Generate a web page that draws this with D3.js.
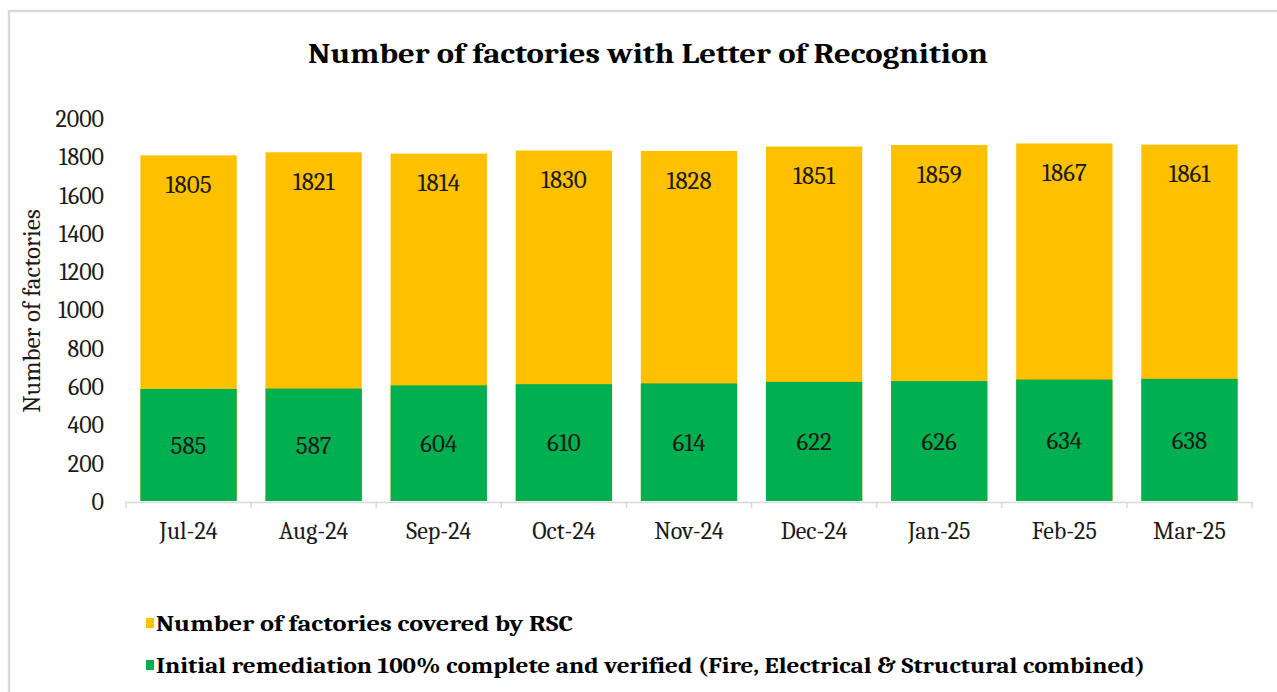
<!DOCTYPE html>
<html><head><meta charset="utf-8">
<script src="https://cdn.jsdelivr.net/npm/d3@7"></script>
<style>body{margin:0;background:#fff}svg{display:block}</style>
</head><body><svg id="c" width="1277" height="692"></svg>
<script>
const categories = ["Jul-24","Aug-24","Sep-24","Oct-24","Nov-24","Dec-24","Jan-25","Feb-25","Mar-25"];
const coveredByRSC = [1805,1821,1814,1830,1828,1851,1859,1867,1861];
const remediationComplete = [585,587,604,610,614,622,626,634,638];
const yTicks = [0,200,400,600,800,1000,1200,1400,1600,1800,2000];
const seriesNames = ["Number of factories covered by RSC","Initial remediation 100% complete and verified (Fire, Electrical & Structural combined)"];
const title = "Number of factories with Letter of Recognition";
const yTitle = "Number of factories";

const svg = d3.select("#c");
const serif = "Cambria, 'Liberation Serif', 'DejaVu Serif', serif";
const YEL = "#FFC000", GRN = "#00B050", TXT = "#1a1a1a";

// frame
svg.append("rect").attr("x",9).attr("y",11).attr("width",1300).attr("height",700)
  .attr("fill","none").attr("stroke","#d9d9d9").attr("stroke-width",2.5);

const x = d3.scaleBand().domain(categories).range([126,1252]).paddingInner(0.23).paddingOuter(0.115);
const y = d3.scaleLinear().domain([0,2000]).range([501,118]);

svg.append("text").attr("x",648).attr("y",63).attr("text-anchor","middle")
  .attr("font-family",serif).attr("font-weight","bold").attr("font-size",28)
  .attr("textLength",680).attr("lengthAdjust","spacingAndGlyphs").attr("fill","#000").text(title);

// y axis labels
const ya = svg.append("g").attr("transform","translate(104,0)")
  .call(d3.axisLeft(y).tickValues(yTicks).tickFormat(d3.format("d")).tickSize(0).tickPadding(0));
ya.select(".domain").remove();
ya.selectAll("text").attr("font-family",serif).attr("font-size",24).attr("fill",TXT).attr("dy","0.35em");

svg.append("text").attr("transform","translate(40,311) rotate(-90)").attr("text-anchor","middle")
  .attr("font-family",serif).attr("font-size",25).attr("fill",TXT).text(yTitle);

// bars
const g = svg.append("g");
g.selectAll(".t").data(categories).join("rect")
  .attr("x",d=>x(d)).attr("width",x.bandwidth())
  .attr("y",(d,i)=>y(coveredByRSC[i])).attr("height",(d,i)=>y(0)-y(coveredByRSC[i])).attr("fill",YEL);
g.selectAll(".g").data(categories).join("rect")
  .attr("x",d=>x(d)).attr("width",x.bandwidth())
  .attr("y",(d,i)=>y(remediationComplete[i])).attr("height",(d,i)=>y(0)-y(remediationComplete[i])).attr("fill",GRN);

// labels
g.selectAll(".lt").data(categories).join("text")
  .attr("x",d=>x(d)+x.bandwidth()/2).attr("y",(d,i)=>y(coveredByRSC[i])+29).attr("dy","0.35em")
  .attr("text-anchor","middle").attr("font-family",serif).attr("font-size",25).attr("fill",TXT)
  .text((d,i)=>coveredByRSC[i]);
g.selectAll(".lg").data(categories).join("text")
  .attr("x",d=>x(d)+x.bandwidth()/2).attr("y",(d,i)=>(y(remediationComplete[i])+y(0))/2).attr("dy","0.35em")
  .attr("text-anchor","middle").attr("font-family",serif).attr("font-size",25).attr("fill",TXT)
  .text((d,i)=>remediationComplete[i]);

// x axis
const xa = svg.append("g").attr("transform","translate(0,502)")
  .call(d3.axisBottom(x).tickSize(0).tickPadding(20));
xa.select(".domain").attr("stroke","#d9d9d9").attr("stroke-width",1.5);
xa.selectAll("text").attr("font-family",serif).attr("font-size",24).attr("fill",TXT);
const bounds = categories.map(c=>x(c)-x.step()*x.paddingInner()/2).concat([1252]);
bounds[0] = 126;
svg.append("g").selectAll("line").data(bounds).join("line")
  .attr("x1",d=>d).attr("x2",d=>d).attr("y1",502).attr("y2",508)
  .attr("stroke","#d9d9d9").attr("stroke-width",1.5);

// legend
const lg = svg.append("g");
[YEL,GRN].forEach((c,i)=>{
  const yy = 623 + i*42;
  lg.append("rect").attr("x",146).attr("y",yy-5).attr("width",8).attr("height",10).attr("fill",c);
  lg.append("text").attr("x",156).attr("y",yy).attr("dy","0.35em")
    .attr("font-family",serif).attr("font-weight","bold").attr("font-size",23).attr("fill","#000")
    .attr("textLength", i===0?417:989).attr("lengthAdjust","spacingAndGlyphs").text(seriesNames[i]);
});
</script></body></html>
